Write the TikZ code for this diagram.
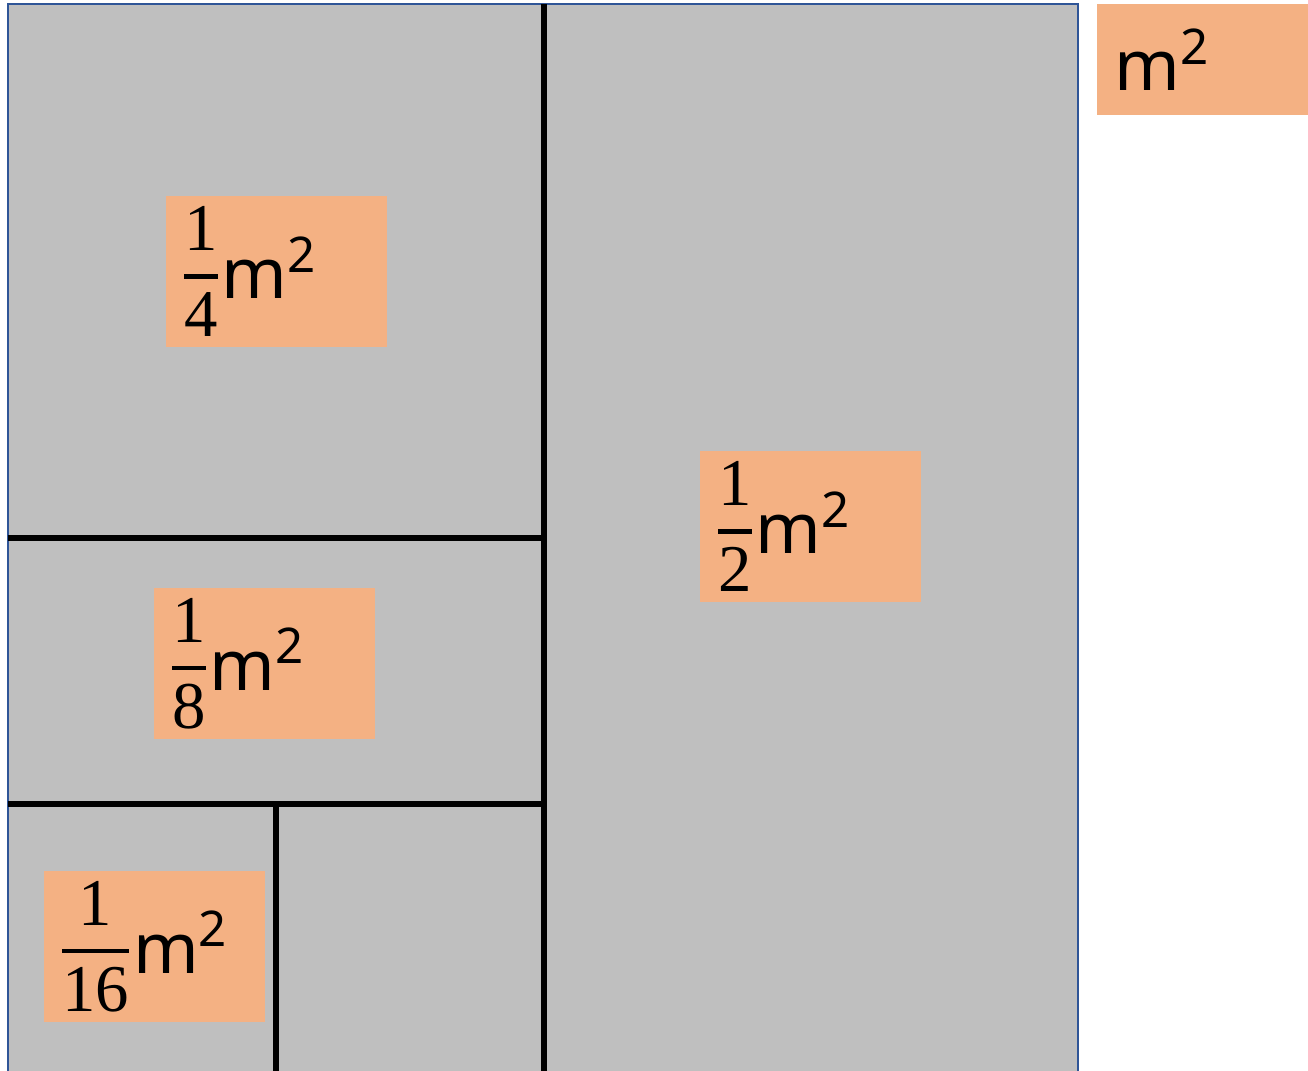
\documentclass[tikz,border=0pt]{standalone}
\usepackage{fontspec}
\setmainfont{Noto Sans}
\newfontfamily\digitfont{Liberation Serif}
\usepackage{amsmath}
\usepackage{tikz}
\usetikzlibrary{positioning}
\usepackage{xcolor}
\definecolor{PaperGray}{HTML}{BFBFBF}
\definecolor{Peach}{HTML}{F4B183}
\definecolor{EdgeBlue}{HTML}{2F5597}

\newcommand{\fracdigit}[1]{\text{\digitfont\fontsize{19}{22}\selectfont #1}}
\newcommand{\areafrac}[1]{%
  {\fontsize{16}{19}\selectfont
   $\genfrac{}{}{1.3pt}{0}{\fracdigit{1}}{\fracdigit{#1}}$}%
  {\fontsize{20}{24}\selectfont\raisebox{-2pt}{m\textsuperscript{2}}}}

\tikzset{
  areabox/.style={fill=Peach, minimum width=2.21cm, minimum height=1.51cm,
                  text width=1.93cm, align=left, inner xsep=0.14cm, inner ysep=0pt},
  cutline/.style={black, line width=1.5pt}
}

\begin{document}
\begin{tikzpicture}[x=0.01cm, y=-0.01cm]
\useasboundingbox (0,0) rectangle (1308,1071);
\clip (0,0) rectangle (1308,1071);

% ── Sheet ─────────────────────────────────────────────────────────────────────
\draw[fill=PaperGray, draw=EdgeBlue, line width=0.6pt] (8,4) rectangle (1078,1090);

% ── Cuts ──────────────────────────────────────────────────────────────────────
\draw[cutline] (544,4) -- (544,1090);
\draw[cutline] (8,538) -- (544,538);
\draw[cutline] (8,804) -- (544,804);
\draw[cutline] (276,804) -- (276,1090);

% ── Labels ────────────────────────────────────────────────────────────────────
\node[areabox] (half)    at (810.5,526.5) {\areafrac{2}};
\node[areabox] (quarter) at (276.5,271.5) {\areafrac{4}};
\node[areabox] (eighth)  at (264.5,663.5) {\areafrac{8}};
\node[areabox] (sixteen) at (154.5,946.5) {\areafrac{16}};

% ── Unit ──────────────────────────────────────────────────────────────────────
\node[areabox, minimum width=2.11cm, minimum height=1.11cm, inner xsep=0.18cm,
      text width=1.75cm]
  (unit) at (1202.5,59.5) {\fontsize{20}{24}\selectfont m\textsuperscript{2}};

\end{tikzpicture}
\end{document}
